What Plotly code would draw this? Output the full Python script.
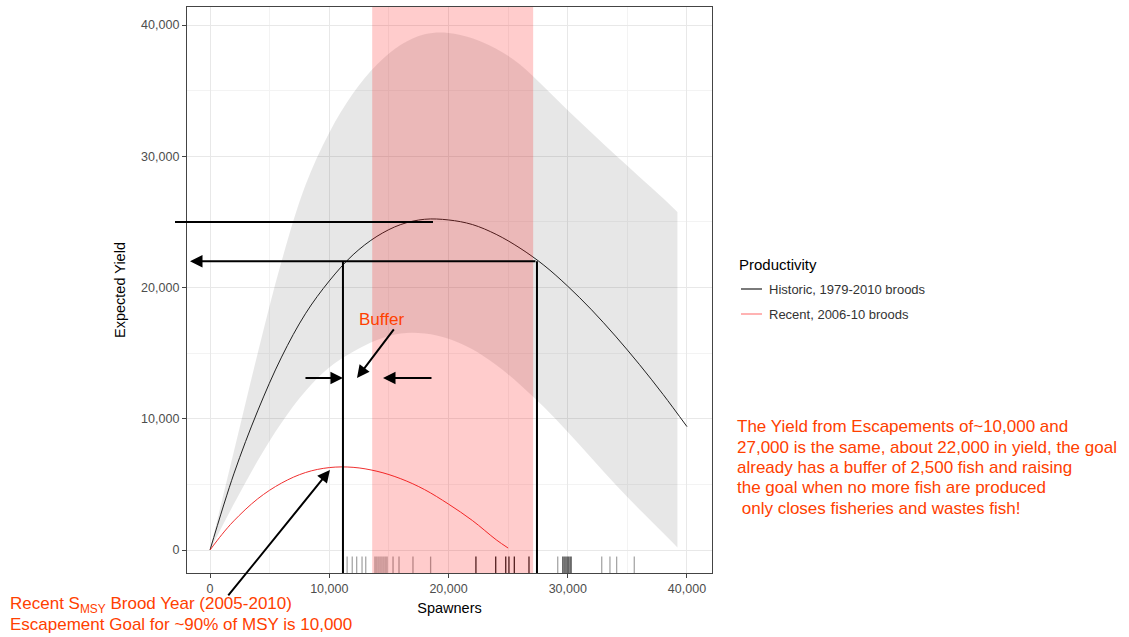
import plotly.graph_objects as go

# ---- Expected yield curves -------------------------------------------------
spawners = [0, 2000, 4000, 6000, 8000, 10000, 12000, 14000, 16000, 18000, 20000,
            22000, 24000, 26000, 28000, 30000, 32000, 34000, 36000, 38000, 40000]
historic_yield = [0, 5800, 10600, 14700, 18000, 20500, 22500, 23900, 24800, 25200, 25150,
                  24800, 24050, 23000, 21700, 20100, 18300, 16300, 14150, 11850, 9400]

# credible band for the historic curve
band_s = [0, 2000, 4000, 6000, 8000, 10000, 12000, 14000, 16000, 18000, 20000,
          22000, 24000, 26000, 28000, 30000, 32000, 34000, 36000, 38000, 39200]
band_upper = [0, 7500, 15000, 22000, 27800, 31800, 34800, 37000, 38500, 39300, 39400,
              39000, 38200, 37000, 35300, 33500, 31800, 30100, 28450, 26800, 25750]
band_lower = [0, 3500, 6800, 9700, 12100, 13900, 15100, 16000, 16500, 16500, 16100,
              15300, 14100, 12600, 10900, 9000, 7000, 5000, 3100, 1300, 200]

recent_s = [0, 1000, 2000, 4000, 6000, 8000, 10000, 12000, 14000, 16000, 18000,
            20000, 22000, 24000, 25000]
recent_yield = [0, 1180, 2220, 3900, 5100, 5900, 6280, 6300, 6000, 5430, 4600,
                3500, 2250, 780, 150]

# observed escapements (rug)
rug_light = [11500, 11930, 12300, 12750, 13060, 13840, 14000, 14170, 14340, 14510,
             14680, 14840, 15350, 15850, 17020, 18500, 29160, 32850, 33540, 34100, 35580]
rug_dark = [22300, 23960, 24800, 25070, 25520, 26750, 29600, 29770, 29940, 30100, 30270]

# escapement goal range (shaded)
goal_range = [13600, 27100]

# reference values used by the annotations
msy_yield = 25000
msy_s = 18700
equal_yield = 22000
low_esc = 11150
high_esc = 27420
buffer_y = 13100

x_ticks = [0, 10000, 20000, 30000, 40000]
x_labels = ["0", "10,000", "20,000", "30,000", "40,000"]
y_ticks = [0, 10000, 20000, 30000, 40000]
y_labels = ["0", "10,000", "20,000", "30,000", "40,000"]

note_lines = [
    "The Yield from Escapements of~10,000 and",
    "27,000 is the same, about 22,000 in yield, the goal",
    "already has a buffer of 2,500 fish and raising",
    "the goal when no more fish are produced",
    "\u00a0only closes fisheries and wastes fish!",
]
smsy_lines = [
    "Recent S<sub>MSY</sub> Brood Year (2005-2010)",
    "Escapement Goal for ~90% of MSY is 10,000",
]

X_RANGE = [-1929, 42098]
Y_RANGE = [-1752, 41375]

RED = "#ff4000"
FONT = "Liberation Sans, Arial, sans-serif"

# plot area in pixels (for text placed outside the axes)
PX_L, PX_R, PX_T, PX_B = 187, 712, 7, 573


def xp(s):
    """data x -> paper x"""
    return (s - X_RANGE[0]) / (X_RANGE[1] - X_RANGE[0])


def yp(v):
    """data y -> paper y"""
    return (v - Y_RANGE[0]) / (Y_RANGE[1] - Y_RANGE[0])


def pxx(p):
    return (p - PX_L) / (PX_R - PX_L)


def pxy(p):
    return (PX_B - p) / (PX_B - PX_T)


fig = go.Figure()

# grey band
fig.add_trace(go.Scatter(x=band_s, y=band_lower, mode="lines", line=dict(width=0, shape="spline"),
                         hoverinfo="skip", showlegend=False))
fig.add_trace(go.Scatter(x=band_s, y=band_upper, mode="lines", line=dict(width=0, shape="spline"),
                         fill="tonexty", fillcolor="rgba(0,0,0,0.095)", hoverinfo="skip",
                         showlegend=False))

fig.add_trace(go.Scatter(x=spawners, y=historic_yield, mode="lines",
                         line=dict(color="#222222", width=1, shape="spline"),
                         name="Historic, 1979-2010 broods", showlegend=False))
fig.add_trace(go.Scatter(x=recent_s, y=recent_yield, mode="lines",
                         line=dict(color="#f03030", width=1, shape="spline"),
                         name="Recent, 2006-10 broods", showlegend=False))

# rug marks
rug_top = -500


def rug_xy(values):
    xs, ys = [], []
    for v in values:
        xs += [v, v, None]
        ys += [Y_RANGE[0], rug_top, None]
    return xs, ys


rx, ry = rug_xy(rug_light)
fig.add_trace(go.Scatter(x=rx, y=ry, mode="lines", line=dict(color="rgba(0,0,0,0.35)", width=1.3),
                         hoverinfo="skip", showlegend=False))
rx, ry = rug_xy(rug_dark)
fig.add_trace(go.Scatter(x=rx, y=ry, mode="lines", line=dict(color="rgba(0,0,0,0.85)", width=1.3),
                         hoverinfo="skip", showlegend=False))

shapes = [
    # goal range, drawn over the curves
    dict(type="rect", xref="x", yref="paper", x0=goal_range[0], x1=goal_range[1], y0=0, y1=1,
         fillcolor="rgba(255,0,0,0.2)", line=dict(width=0), layer="above"),
    # MSY level
    dict(type="line", xref="paper", yref="paper", x0=xp(-2935), x1=xp(msy_s),
         y0=yp(msy_yield), y1=yp(msy_yield), line=dict(color="black", width=2)),
    # equal-yield escapements
    dict(type="line", xref="x", yref="y", x0=low_esc, x1=low_esc, y0=Y_RANGE[0], y1=equal_yield,
         line=dict(color="black", width=2)),
    dict(type="line", xref="x", yref="y", x0=high_esc, x1=high_esc, y0=Y_RANGE[0], y1=equal_yield,
         line=dict(color="black", width=2)),
    # legend keys
    dict(type="line", xref="paper", yref="paper", x0=pxx(741), x1=pxx(762),
         y0=pxy(289), y1=pxy(289), line=dict(color="#222222", width=1.2)),
    dict(type="line", xref="paper", yref="paper", x0=pxx(741), x1=pxx(762),
         y0=pxy(314), y1=pxy(314), line=dict(color="#ff8080", width=1.2)),
]

arrow = dict(showarrow=True, arrowhead=2, arrowsize=1.25, arrowwidth=2, arrowcolor="black",
             axref="x", ayref="y", xref="x", yref="y", text="")

annotations = [
    # yield arrow back to the axis
    dict(arrow, x=-1680, y=equal_yield, ax=high_esc, ay=equal_yield),
    # buffer arrows
    dict(arrow, x=low_esc, y=buffer_y, ax=7880, ay=buffer_y),
    dict(arrow, x=14510, y=buffer_y, ax=18700, ay=buffer_y),
    dict(arrow, x=12330, y=13110, ax=15510, ay=16920),
    # S_MSY pointer
    dict(arrow, x=10060, y=6100, ax=1430, ay=-3580),
    dict(text="Buffer", x=14420, y=17530, xref="x", yref="y", showarrow=False,
         font=dict(family=FONT, size=17, color=RED)),
    # legend text
    dict(text="Productivity", x=pxx(737), y=pxy(264), xref="paper", yref="paper",
         xanchor="left", yanchor="middle", showarrow=False, font=dict(family=FONT, size=15, color="black")),
    dict(text="Historic, 1979-2010 broods", x=pxx(767), y=pxy(289), xref="paper",
         yref="paper", xanchor="left", yanchor="middle", showarrow=False,
         font=dict(family=FONT, size=13, color="#333333")),
    dict(text="Recent, 2006-10 broods", x=pxx(767), y=pxy(314), xref="paper",
         yref="paper", xanchor="left", yanchor="middle", showarrow=False,
         font=dict(family=FONT, size=13, color="#333333")),
]

for i, line in enumerate(note_lines):
    annotations.append(dict(text=line, x=pxx(735), y=pxy(427 + 20.3 * i), xref="paper", yref="paper",
                            xanchor="left", yanchor="middle", showarrow=False,
                            font=dict(family=FONT, size=17, color=RED)))
for i, line in enumerate(smsy_lines):
    annotations.append(dict(text=line, x=pxx(8), y=pxy(605 + 19.5 * i), xref="paper", yref="paper",
                            xanchor="left", yanchor="middle", showarrow=False,
                            font=dict(family=FONT, size=17, color=RED)))

axis_common = dict(
    showline=True, mirror=True, linecolor="#444444", linewidth=1.3,
    ticks="outside", ticklen=4, tickcolor="#444444", tickwidth=1,
    showgrid=True, gridcolor="#e8e8e8", gridwidth=1, zeroline=False,
    tickfont=dict(family=FONT, size=12.5, color="#4d4d4d"),
)

fig.update_layout(
    width=1129, height=637,
    margin=dict(l=PX_L, r=1129 - PX_R, t=PX_T, b=637 - PX_B),
    paper_bgcolor="white", plot_bgcolor="white",
    showlegend=False,
    shapes=shapes, annotations=annotations,
    xaxis=dict(axis_common, range=X_RANGE, tickvals=x_ticks, ticktext=x_labels,
               minor=dict(dtick=5000, tick0=0, showgrid=True, gridcolor="#f3f3f3", ticks=""),
               title=dict(text="Spawners", font=dict(family=FONT, size=14.5, color="black"), standoff=7)),
    yaxis=dict(axis_common, range=Y_RANGE, tickvals=y_ticks, ticktext=y_labels,
               minor=dict(dtick=5000, tick0=0, showgrid=True, gridcolor="#f3f3f3", ticks=""),
               title=dict(text="Expected Yield", font=dict(family=FONT, size=14.5, color="black"), standoff=12)),
)

fig.write_html("out.html")
